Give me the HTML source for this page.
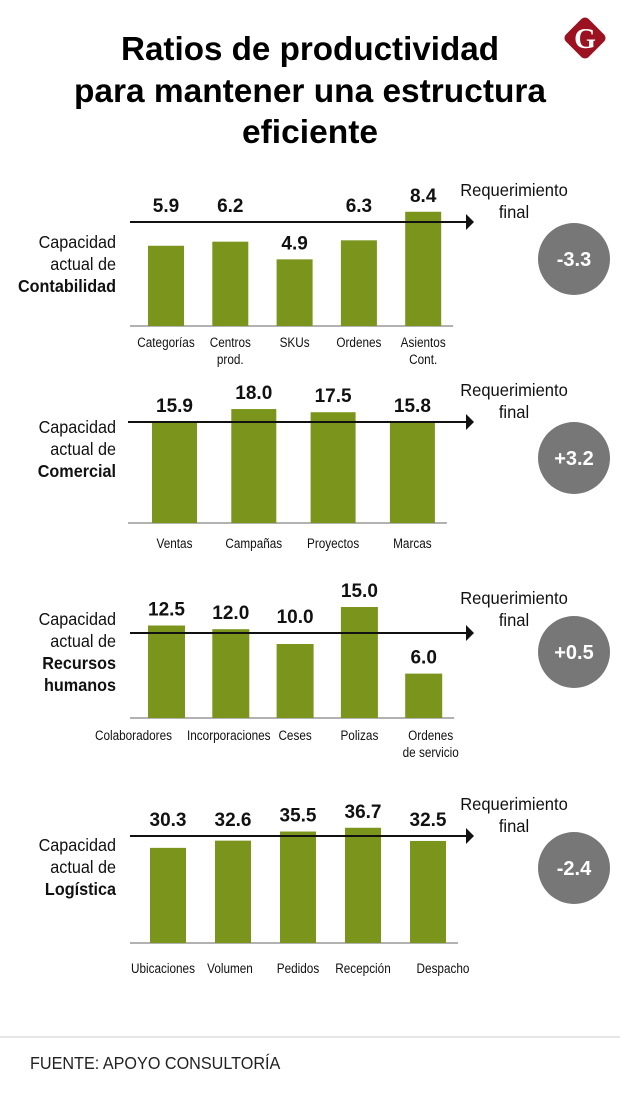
<!DOCTYPE html>
<html><head><meta charset="utf-8">
<style>
html,body{margin:0;padding:0;background:#fff;}
svg{display:block;font-family:"Liberation Sans Narrow","Liberation Sans",sans-serif;}
</style></head>
<body>
<svg id="chart" width="620" height="1114" viewBox="0 0 620 1114">
  <g font-weight="bold" font-size="33" text-anchor="middle" fill="#000">
    <text x="310" y="60" textLength="378" lengthAdjust="spacingAndGlyphs">Ratios de productividad</text>
    <text x="310" y="102" textLength="472" lengthAdjust="spacingAndGlyphs">para mantener una estructura</text>
    <text x="310" y="143" textLength="136" lengthAdjust="spacingAndGlyphs">eficiente</text>
  </g>
  <g>
    <rect x="569" y="22" width="32" height="32" rx="5" transform="rotate(45 585 38)" fill="#9b1220"/>
    <text x="585" y="48" text-anchor="middle" font-family="Liberation Serif,serif" font-weight="bold" font-size="28" fill="#fff">G</text>
  </g>
  <line x1="0" y1="1037" x2="620" y2="1037" stroke="#ddd" stroke-width="1.5"/>
  <text x="30" y="1069" font-size="18" fill="#222" transform="translate(30,0) scale(0.9,1) translate(-30,0)">FUENTE: APOYO CONSULTORÍA</text>
</svg>
<script>
const NS = "http://www.w3.org/2000/svg";
const svg = document.getElementById("chart");

const contCats = ["Categorías", "Centros\nprod.", "SKUs", "Ordenes", "Asientos\nCont."];
const contValues = [5.9, 6.2, 4.9, 6.3, 8.4];
const comCats = ["Ventas", "Campañas", "Proyectos", "Marcas"];
const comValues = [15.9, 18.0, 17.5, 15.8];
const rrhhCats = ["Colaboradores", "Incorporaciones", "Ceses", "Polizas", "Ordenes\nde servicio"];
const rrhhValues = [12.5, 12.0, 10.0, 15.0, 6.0];
const logCats = ["Ubicaciones", "Volumen", "Pedidos", "Recepción", "Despacho"];
const logValues = [30.3, 32.6, 35.5, 36.7, 32.5];
const gapLabels = ["-3.3", "+3.2", "+0.5", "-2.4"];
const areaNames = ["Contabilidad", "Comercial", "Recursos\nhumanos", "Logística"];

const panels = [
  {cats: contCats, vals: contValues, base: 326, unit: 13.6, x0: 148, step: 64.3, bw: 36, arrowY: 222, axisX1: 130, catY: 347, leftY: 248, reqY: 196, circY: 259, gap: gapLabels[0], area: areaNames[0], key: "contabilidad", shift: [0, 0, 0, 0, 0]},
  {cats: comCats, vals: comValues, base: 523, unit: 6.33, x0: 152, step: 79.3, bw: 45, arrowY: 422, axisX1: 128, catY: 548, leftY: 433, reqY: 396, circY: 458, gap: gapLabels[1], area: areaNames[1], key: "comercial", shift: [0, 0, 0, 0]},
  {cats: rrhhCats, vals: rrhhValues, base: 718, unit: 7.4, x0: 148, step: 64.3, bw: 37, arrowY: 633, axisX1: 130, catY: 740, leftY: 625, reqY: 604, circY: 652, gap: gapLabels[2], area: areaNames[2], key: "recursos-humanos", shift: [-33, -2, 0, 0, 7]},
  {cats: logCats, vals: logValues, base: 943, unit: 3.14, x0: 150, step: 65, bw: 36, arrowY: 836, axisX1: 130, catY: 973, leftY: 851, reqY: 810, circY: 868, gap: gapLabels[3], area: areaNames[3], key: "logistica", shift: [-5, -3, 0, 0, 15]}
];

function el(tag, attrs, parent) {
  const e = document.createElementNS(NS, tag);
  for (const k in attrs) e.setAttribute(k, attrs[k]);
  (parent || svg).appendChild(e);
  return e;
}
function condense(e, cx, f) {
  e.setAttribute("transform", "translate(" + cx + ",0) scale(" + f + ",1) translate(" + (-cx) + ",0)");
}

panels.forEach(function (p) {
  const g = el("g", {});
  
  
  const xPos = i => p.x0 + i * p.step;
  const yPos = v => p.base - v * p.unit;
  const lastX = xPos(p.vals.length - 1) + p.bw;

  const lt = el("text", {x: 116, y: p.leftY, "text-anchor": "end", "font-size": 18, fill: "#111"}, g);
  
  
  condense(lt, 116, 0.9);
  const lines = ["Capacidad", "actual de"].concat(p.area.split("\n"));
  lines.forEach(function (s, i) {
    const ts = el("tspan", {x: 116, dy: i === 0 ? 0 : 22}, lt);
    if (i >= 2) ts.setAttribute("font-weight", "bold");
    ts.textContent = s;
  });

  const bl = el("line", {x1: p.axisX1, x2: lastX + 12, y1: p.base, y2: p.base, stroke: "#999", "stroke-width": 1.5}, g);
  
  

  p.vals.forEach(function (v, i) {
    const x = xPos(i), top = yPos(v);
    const r = el("rect", {x: x, y: top, width: p.bw, height: p.base - top, fill: "#7a941c"}, g);
    
    
    const ly = (top < p.arrowY || top - p.arrowY < 30) ? Math.min(top, p.arrowY) - 10 : top - 10;
    const t = el("text", {x: x + p.bw / 2, y: ly, "text-anchor": "middle", "font-size": 19, "font-weight": "bold", fill: "#111"}, g);
    
    
    t.textContent = v.toFixed(1);
    const cx = x + p.bw / 2 + p.shift[i];
    const c = el("text", {x: cx, y: p.catY, "text-anchor": "middle", "font-size": 14, fill: "#111"}, g);
    
    
    condense(c, cx, 0.84);
    p.cats[i].split("\n").forEach(function (s, j) {
      const ts = el("tspan", {x: cx, dy: j === 0 ? 0 : 17}, c);
      ts.textContent = s;
    });
  });

  const ar = el("line", {x1: p.axisX1, x2: 468, y1: p.arrowY, y2: p.arrowY, stroke: "#111", "stroke-width": 2}, g);
  
  
  const ah = el("polygon", {points: "466," + (p.arrowY - 8) + " 474," + p.arrowY + " 466," + (p.arrowY + 8), fill: "#111"}, g);
  
  

  const rq = el("text", {x: 514, y: p.reqY, "text-anchor": "middle", "font-size": 18, fill: "#111"}, g);
  
  
  condense(rq, 514, 0.92);
  ["Requerimiento", "final"].forEach(function (s, j) {
    const ts = el("tspan", {x: 514, dy: j === 0 ? 0 : 22}, rq);
    ts.textContent = s;
  });

  const ci = el("circle", {cx: 574, cy: p.circY, r: 36, fill: "#777"}, g);
  
  
  const ct = el("text", {x: 574, y: p.circY + 7, "text-anchor": "middle", "font-size": 20, "font-weight": "bold", fill: "#fff"}, g);
  
  
  ct.textContent = p.gap;
});
</script>
</body></html>
